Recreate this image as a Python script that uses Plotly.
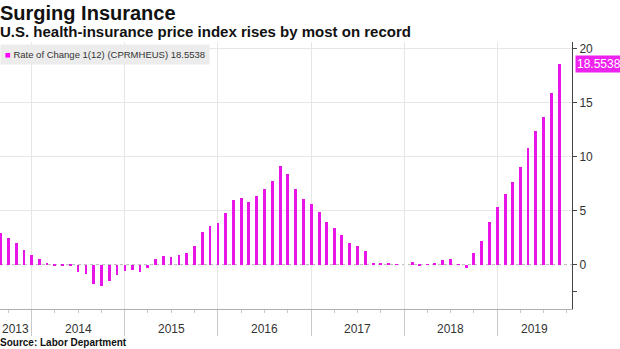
import plotly.graph_objects as go
import pandas as pd

# ---- data ----
start_month = "2013-09-01"
values = [
    # 2013 Sep-Dec
    2.94, 2.45, 2.0, 1.32,
    # 2014
    0.92, 0.55, 0.18, -0.16, -0.12, -0.04, -0.67, -0.89, -1.75, -1.96, -1.52, -1.0,
    # 2015
    -0.55, -0.5, -0.72, -0.34, 0.55, 0.8, 0.71, 0.93, 1.04, 1.75, 3.04, 3.59,
    # 2016
    3.83, 4.79, 5.95, 6.2, 5.83, 6.32, 7.02, 7.7, 9.11, 8.37, 6.96, 6.07,
    # 2017
    5.6, 4.85, 3.99, 3.37, 2.76, 1.99, 1.75, 1.27, 0.15, 0.09, 0.15, 0.03,
    # 2018
    0.0, 0.28, -0.05, 0.05, 0.2, 0.46, 0.5, 0.06, -0.31, 1.1, 2.2, 3.93,
    # 2019 Jan-Sep
    5.37, 6.5, 7.67, 9.08, 10.8, 12.39, 13.68, 15.92, 18.5538,
]
dates = pd.date_range(start_month, periods=len(values), freq="MS")
series_name = "Rate of Change 1(12) (CPRMHEUS)"
y_tickvals = [-2.5, 0, 5, 10, 15, 20]
y_ticktext = ["", "0", "5", "10", "15", "20"]
years = [2013, 2014, 2015, 2016, 2017, 2018, 2019]

title = "Surging Insurance"
subtitle = "U.S. health-insurance price index rises by most on record"
source = "Source: Labor Department"

MAGENTA = "#e815e8"
FONT = "Liberation Sans, Arial, sans-serif"

x_min = dates[0] - pd.Timedelta(days=3)
x_max = dates[-1] + pd.Timedelta(days=50)

fig = go.Figure()
fig.add_trace(go.Bar(
    x=dates, y=values,
    width=11 * 24 * 3600 * 1000,
    marker=dict(color=MAGENTA, line=dict(width=0)),
    showlegend=False,
))

year_starts = [pd.Timestamp(f"{y}-01-01") for y in years if pd.Timestamp(f"{y}-01-01") > x_min]

fig.update_xaxes(
    type="date",
    range=[x_min, x_max],
    tickmode="array",
    tickvals=year_starts,
    showticklabels=False,
    ticks="outside", ticklen=26, tickcolor="#c8c8c8", tickwidth=1,
    showgrid=True, gridcolor="#e6e6e6", gridwidth=1,
    showline=True, linecolor="#b0b0b0", linewidth=1,
    zeroline=False,
    minor=dict(tickmode="linear", tick0="2013-01-01", dtick="M3",
               ticks="outside", ticklen=3, tickcolor="#c8c8c8", showgrid=False),
)

fig.update_yaxes(
    side="right",
    range=[-4.1, 20.6],
    tickmode="array", tickvals=y_tickvals, ticktext=y_ticktext,
    ticks="outside", ticklen=4, tickcolor="#444",
    tickfont=dict(family=FONT, size=12, color="#333"),
    showgrid=False,
    zeroline=False,
    showline=True, linecolor="#444", linewidth=1,
    minor=dict(tickmode="array", tickvals=[v for v in y_tickvals if v > 0],
               showgrid=True, gridcolor="#e6e6e6", ticks=""),
)

# dashed zero line
fig.add_shape(type="line", xref="paper", x0=0, x1=1, yref="y", y0=0, y1=0,
              line=dict(color="#b5b5b5", width=1, dash="dot"), layer="below")

ann = []
# year labels centred in visible segment of each year
for y in years:
    a = max(pd.Timestamp(f"{y}-01-01"), x_min)
    b = min(pd.Timestamp(f"{y+1}-01-01"), x_max)
    if b <= a:
        continue
    mid = a + (b - a) / 2
    ann.append(dict(x=mid, xref="x", y=-0.075, yref="paper", text=str(y),
                    showarrow=False, xanchor="center", yanchor="middle",
                    font=dict(family=FONT, size=12, color="#333")))

ann.append(dict(x=0, xref="paper", y=1.1086, yref="paper", text=f"<b>{title}</b>",
                showarrow=False, xanchor="left", yanchor="middle", xshift=-2,
                font=dict(family=FONT, size=20, color="#111")))
ann.append(dict(x=0, xref="paper", y=1.041, yref="paper", text=f"<b>{subtitle}</b>",
                showarrow=False, xanchor="left", yanchor="middle", xshift=-2,
                font=dict(family=FONT, size=15, color="#111")))
ann.append(dict(x=0, xref="paper", y=-0.1273, yref="paper", text=f"<b>{source}</b>",
                showarrow=False, xanchor="left", yanchor="middle", xshift=-2,
                font=dict(family=FONT, size=10, color="#111")))
# legend box
ann.append(dict(x=0, xref="paper", y=0.955, yref="paper",
                text=f"<span style='color:#ff00ff'>■</span> {series_name} {values[-1]:.4f}",
                showarrow=False, xanchor="left", yanchor="middle",
                bgcolor="#ececec", borderpad=4,
                font=dict(family=FONT, size=9.5, color="#333")))
# last value tag
ann.append(dict(x=1, xref="paper", y=values[-1], yref="y",
                text=f"{values[-1]:.4f}", showarrow=False,
                xanchor="left", yanchor="middle", xshift=3,
                bgcolor="#ee22ee", borderpad=1,
                font=dict(family=FONT, size=12, color="white")))

fig.update_layout(
    width=620, height=349,
    margin=dict(l=0, r=48, t=42, b=40),
    paper_bgcolor="white", plot_bgcolor="white",
    annotations=ann,
    bargap=0,
)

fig.write_html("out.html")
